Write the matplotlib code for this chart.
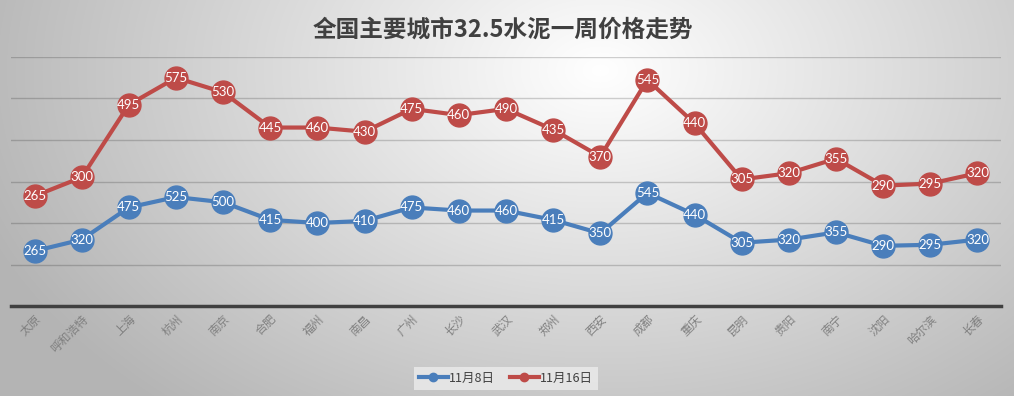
import numpy as np
import matplotlib
matplotlib.use("Agg")
import matplotlib.pyplot as plt
from matplotlib.lines import Line2D

cities = ["太原", "呼和浩特", "上海", "杭州", "南京", "合肥", "福州", "南昌", "广州", "长沙",
          "武汉", "郑州", "西安", "成都", "重庆", "昆明", "贵阳", "南宁", "沈阳", "哈尔滨", "长春"]
nov8 = [265, 320, 475, 525, 500, 415, 400, 410, 475, 460, 460, 415, 350, 545, 440, 305, 320, 355, 290, 295, 320]
nov16 = [265, 300, 495, 575, 530, 445, 460, 430, 475, 460, 490, 435, 370, 545, 440, 305, 320, 355, 290, 295, 320]
series_names = ["11月8日", "11月16日"]
title = "全国主要城市32.5水泥一周价格走势"

plt.rcParams['font.family'] = ['Noto Sans CJK SC', 'DejaVu Sans']

W, H = 1014, 396
fig = plt.figure(figsize=(W / 100, H / 100), dpi=100)

# radial gradient background
bg = fig.add_axes([0, 0, 1, 1], zorder=-10)
yy, xx = np.mgrid[0:H, 0:W]
cx, cy = 600, 70
r = np.sqrt(((xx - cx) / 620.0) ** 2 + ((yy - cy) / 420.0) ** 2)
val = 255 - 70 * np.clip(r, 0, 1.3)
val = np.clip(val, 180, 255) / 255.0
img = np.dstack([val, val, val])
bg.imshow(img, extent=[0, W, H, 0], aspect='auto', interpolation='bilinear')
bg.set_axis_off()

ax = fig.add_axes([11 / W, 90 / H, 990 / W, 249 / H])
ax.set_facecolor('none')

x = np.arange(len(cities))
blue = np.array(nov8)
red_stack = blue + np.array(nov16)

c_blue = '#4A7EBB'
c_red = '#BE4B48'

ax.plot(x, blue, color=c_blue, lw=3, marker='o', ms=16.5, mec=c_blue, mfc=c_blue, zorder=3,
        solid_capstyle='round')
ax.plot(x, red_stack, color=c_red, lw=3, marker='o', ms=16.5, mec=c_red, mfc=c_red, zorder=3,
        solid_capstyle='round')

for xi, yv, lab in zip(x, blue, nov8):
    ax.text(xi, yv, str(lab), ha='center', va='center', color='white', fontsize=9.5,
            family=['Lato', 'DejaVu Sans'], zorder=4)
for xi, yv, lab in zip(x, red_stack, nov16):
    ax.text(xi, yv, str(lab), ha='center', va='center', color='white', fontsize=9.5,
            family=['Lato', 'DejaVu Sans'], zorder=4)

ax.set_xlim(-0.5, len(cities) - 0.5)
ax.set_ylim(0, 1200)
ax.set_yticks(np.arange(200, 1201, 200))
ax.yaxis.grid(True, color='black', alpha=0.18, lw=1)
ax.set_axisbelow(True)
ax.tick_params(axis='y', left=False, labelleft=False)
ax.tick_params(axis='x', length=0, pad=5)
for s in ['top', 'right', 'left']:
    ax.spines[s].set_visible(False)
ax.spines['bottom'].set_color('#404040')
ax.spines['bottom'].set_linewidth(2.5)

ax.set_xticks(x)
ax.set_xticklabels(cities, rotation=45, ha='right', va='top', rotation_mode='anchor',
                   fontsize=8.5, color='#808080')

fig.text(503 / W, 1 - 30 / H, title, ha='center', va='center', fontsize=17,
         fontweight='bold', color='#404040')

handles = [Line2D([0], [0], color=c_blue, lw=3, marker='o', ms=6),
           Line2D([0], [0], color=c_red, lw=3, marker='o', ms=6)]
leg = fig.legend(handles, series_names, loc='center', bbox_to_anchor=(506 / W, 1 - 378 / H),
                 ncol=2, frameon=True, fontsize=9, handlelength=2.3, columnspacing=1.2,
                 handletextpad=0.1, borderpad=0.4, fancybox=False)
leg.get_frame().set_facecolor('#e8e8e8')
leg.get_frame().set_edgecolor('none')
leg.get_frame().set_alpha(0.9)
for t in leg.get_texts():
    t.set_color('#404040')

fig.savefig('out.png', dpi=100)
